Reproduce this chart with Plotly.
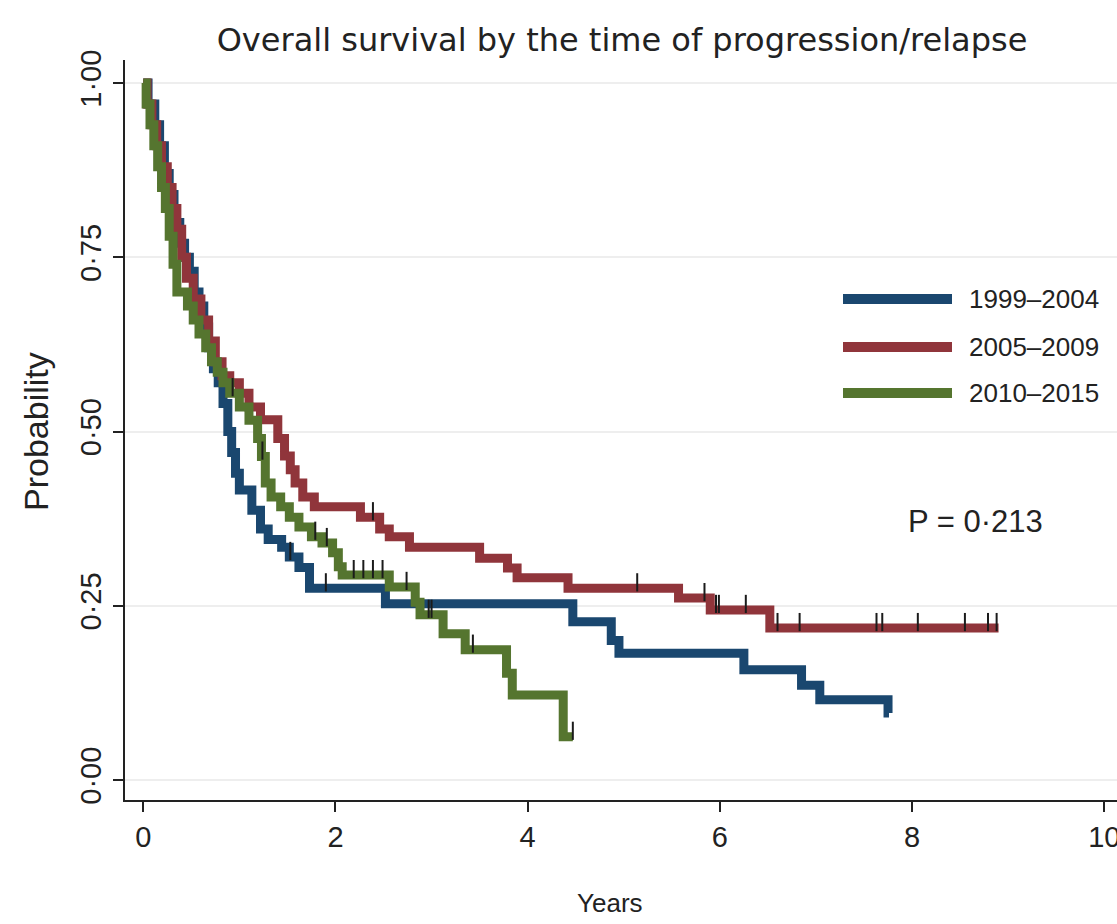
import numpy as np
import plotly.graph_objects as go

# Kaplan-Meier step estimates (time in years, survival probability after each step)
blue_t = [0.00, 0.05, 0.12, 0.17, 0.22, 0.27, 0.32, 0.38, 0.43, 0.48, 0.53, 0.58, 0.63, 0.68, 0.73,
          0.78, 0.83, 0.88, 0.92, 0.96, 1.00, 1.13, 1.22, 1.30, 1.44, 1.52, 1.62, 1.73, 2.52, 4.47,
          4.87, 4.95, 6.25, 6.85, 7.04, 7.75]
blue_s = [1.000, 0.970, 0.940, 0.910, 0.870, 0.840, 0.800, 0.770, 0.750, 0.730, 0.700, 0.680, 0.650,
          0.620, 0.590, 0.570, 0.540, 0.500, 0.470, 0.440, 0.416, 0.387, 0.360, 0.345, 0.334, 0.320,
          0.305, 0.275, 0.253, 0.227, 0.200, 0.182, 0.158, 0.136, 0.115, 0.096]
blue_end = 7.76
blue_cens = [1.53, 1.90]

red_t = [0.00, 0.04, 0.09, 0.14, 0.19, 0.25, 0.30, 0.35, 0.40, 0.45, 0.52, 0.60, 0.68, 0.75, 0.82,
         0.90, 1.00, 1.10, 1.22, 1.40, 1.47, 1.53, 1.58, 1.66, 1.78, 2.26, 2.46, 2.56, 2.77, 3.50,
         3.79, 3.89, 4.42, 5.57, 5.90, 6.52]
red_s = [1.000, 0.970, 0.940, 0.910, 0.880, 0.850, 0.820, 0.790, 0.750, 0.720, 0.690, 0.660, 0.630,
         0.600, 0.580, 0.570, 0.555, 0.535, 0.517, 0.490, 0.465, 0.445, 0.426, 0.406, 0.392, 0.377,
         0.360, 0.349, 0.334, 0.318, 0.304, 0.290, 0.275, 0.261, 0.244, 0.218]
red_end = 8.90
red_cens = [2.39, 5.14, 5.84, 5.96, 5.99, 6.27, 6.60, 6.83, 7.63, 7.69, 8.06, 8.55, 8.79, 8.88]

green_t = [0.00, 0.03, 0.07, 0.11, 0.15, 0.19, 0.23, 0.27, 0.31, 0.35, 0.46, 0.52, 0.58, 0.65, 0.71,
           0.77, 0.83, 0.90, 1.00, 1.10, 1.19, 1.23, 1.27, 1.33, 1.43, 1.52, 1.62, 1.75, 1.86, 1.97,
           2.03, 2.07, 2.56, 2.83, 2.88, 3.12, 3.35, 3.78, 3.84, 4.37]
green_s = [1.000, 0.970, 0.940, 0.910, 0.880, 0.850, 0.820, 0.780, 0.740, 0.700, 0.680, 0.660, 0.640,
           0.620, 0.600, 0.585, 0.570, 0.555, 0.535, 0.516, 0.490, 0.464, 0.426, 0.406, 0.392, 0.377,
           0.363, 0.349, 0.340, 0.326, 0.306, 0.294, 0.277, 0.255, 0.237, 0.210, 0.187, 0.153, 0.122,
           0.062]
green_end = 4.47
green_cens = [0.93, 1.24, 1.79, 1.91, 2.19, 2.29, 2.39, 2.49, 2.74, 2.97, 3.00, 3.43, 4.47]

series_names = ["1999\u20132004", "2005\u20132009", "2010\u20132015"]
series_colors = ["#1a476f", "#90353b", "#55752f"]

y_tickvals = [0, 0.25, 0.5, 0.75, 1.0]
y_ticktext = ["0\u00b700", "0\u00b725", "0\u00b750", "0\u00b775", "1\u00b700"]
x_tickvals = [0, 2, 4, 6, 8, 10]
p_text = "P = 0\u00b7213"

FONT = "Liberation Sans, Arial, sans-serif"
TITLE_FONT = "DejaVu Sans, Verdana, sans-serif"
INK = "#222222"

# plot area geometry (px)
W, H = 1117, 924
ML, MR, MT, MB = 125, 0, 60, 124
PW, PH = W - ML - MR, H - MT - MB
Y_RANGE = [-0.0287, 1.033]


def step_at(times, surv, t):
    idx = np.searchsorted(np.asarray(times), t, side="right") - 1
    return np.asarray(surv)[idx]


fig = go.Figure()

groups = [
    (blue_t, blue_s, blue_end, blue_cens),
    (red_t, red_s, red_end, red_cens),
    (green_t, green_s, green_end, green_cens),
]

for (t, s, t_end, cens), name, color in zip(groups, series_names, series_colors):
    fig.add_trace(go.Scatter(
        x=list(t) + [t_end], y=list(s) + [s[-1]],
        mode="lines", line=dict(color=color, width=9, shape="hv"),
        name=name, showlegend=False, hoverinfo="skip",
    ))

# censoring ticks drawn just above each curve
tick_lift = 6.0 / PH * (Y_RANGE[1] - Y_RANGE[0])
for (t, s, t_end, cens), color in zip(groups, series_colors):
    cy = [float(step_at(t, s, c)) + tick_lift for c in cens]
    fig.add_trace(go.Scatter(
        x=cens, y=cy, mode="markers",
        marker=dict(symbol="line-ns", size=13, line=dict(color="#1b1b1b", width=2)),
        showlegend=False, hoverinfo="skip",
    ))

# legend drawn as swatches + labels
leg_x0 = (843 - ML) / PW
leg_x1 = (952 - ML) / PW
leg_tx = (967 - ML) / PW
leg_rows = [299, 347, 393]
for name, color, py in zip(series_names, series_colors, leg_rows):
    yy = (H - MB - py) / PH
    fig.add_shape(type="line", xref="paper", yref="paper", x0=leg_x0, x1=leg_x1, y0=yy, y1=yy,
                  line=dict(color=color, width=10))
    fig.add_annotation(xref="paper", yref="paper", x=leg_tx, y=yy, text=name, showarrow=False,
                       xanchor="left", yanchor="middle", font=dict(family=FONT, size=26, color=INK))

fig.add_annotation(xref="paper", yref="paper", x=(975 - ML) / PW, y=(H - MB - 521) / PH,
                   text=p_text, showarrow=False, xanchor="center", yanchor="middle",
                   font=dict(family=FONT, size=31, color=INK))

# axis titles
fig.add_annotation(xref="paper", yref="paper", x=(36 - ML) / PW, y=(H - MB - 432) / PH,
                   text="Probability", textangle=-90, showarrow=False,
                   xanchor="center", yanchor="middle", font=dict(family=FONT, size=34, color=INK))
fig.add_annotation(xref="paper", yref="paper", x=(610 - ML) / PW, y=(H - MB - 903) / PH,
                   text="Years", showarrow=False,
                   xanchor="center", yanchor="middle", font=dict(family=FONT, size=26, color=INK))

fig.update_layout(
    width=W, height=H,
    margin=dict(l=ML, r=MR, t=MT, b=MB, autoexpand=False),
    paper_bgcolor="white", plot_bgcolor="white",
    title=dict(text="Overall survival by the time of progression/relapse",
               x=622 / W, xanchor="center", y=1 - 40 / H, yanchor="middle",
               font=dict(family=TITLE_FONT, size=32, color=INK)),
    xaxis=dict(range=[-0.19, -0.19 + PW / 96.1], tickvals=x_tickvals,
               showline=True, linecolor=INK, linewidth=2, mirror=False,
               ticks="outside", ticklen=10, tickwidth=2, tickcolor=INK,
               ticklabeloverflow="allow",
               showgrid=False, zeroline=False,
               tickfont=dict(family=FONT, size=29, color=INK)),
    yaxis=dict(range=Y_RANGE, tickvals=y_tickvals, ticktext=y_ticktext, tickangle=-90,
               showline=True, linecolor=INK, linewidth=2,
               ticks="outside", ticklen=10, tickwidth=2, tickcolor=INK,
               showgrid=True, gridcolor="#eeeeee", gridwidth=2, zeroline=False,
               tickfont=dict(family=FONT, size=29, color=INK)),
)

fig.write_html("out.html")
